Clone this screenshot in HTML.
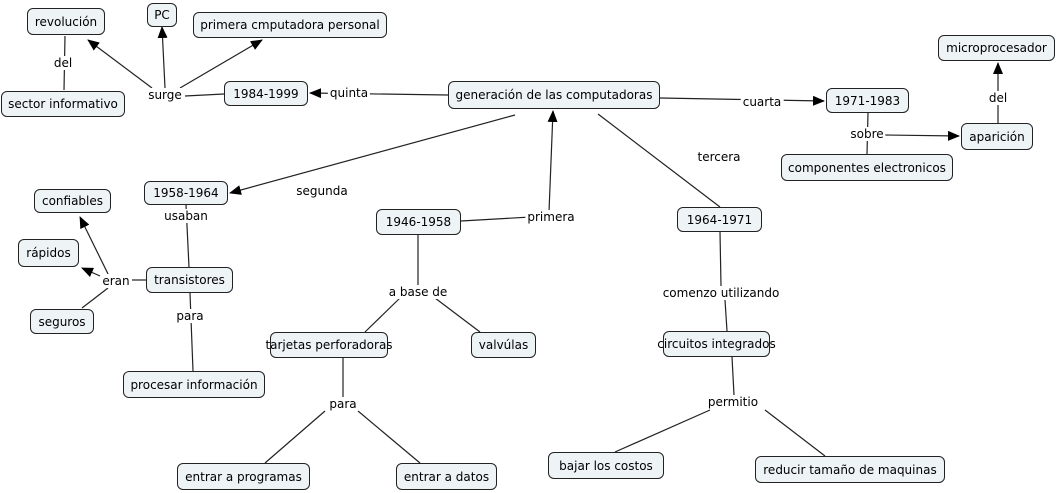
<!DOCTYPE html>
<html><head><meta charset="utf-8"><style>
body{margin:0;width:1059px;height:493px;background:#fff;position:relative;overflow:hidden;font-family:"DejaVu Sans","Liberation Sans",sans-serif;font-size:12px;color:#000}
.n{position:absolute;box-sizing:border-box;border:1px solid #222;border-radius:6px;background:#eef3f5;display:flex;align-items:center;justify-content:center;white-space:nowrap}
.l{position:absolute;background:#fff;white-space:nowrap;transform:translate(-50%,-50%);padding:0 2px;line-height:14px}
svg{position:absolute;left:0;top:0}
</style></head><body>
<svg width="1059" height="493">
<defs><marker id="a" markerWidth="12" markerHeight="10" refX="11" refY="5" orient="auto" markerUnits="userSpaceOnUse"><path d="M0,0L12,5L0,10z" fill="#000"/></marker></defs>
<g stroke="#222" stroke-width="1.2" fill="none">
<line x1="65" y1="36" x2="64" y2="90"/>
<line x1="152" y1="88" x2="88" y2="40" marker-end="url(#a)"/>
<line x1="165" y1="88" x2="162" y2="27" marker-end="url(#a)"/>
<line x1="180" y1="88" x2="262" y2="40" marker-end="url(#a)"/>
<line x1="185" y1="96" x2="224" y2="94"/>
<line x1="448" y1="95" x2="310" y2="93" marker-end="url(#a)"/>
<line x1="660" y1="98" x2="824" y2="101" marker-end="url(#a)"/>
<line x1="868" y1="113" x2="867" y2="154"/>
<line x1="885" y1="135" x2="959" y2="136" marker-end="url(#a)"/>
<line x1="998" y1="123" x2="998" y2="63" marker-end="url(#a)"/>
<line x1="515" y1="115" x2="230" y2="193" marker-end="url(#a)"/>
<line x1="598" y1="114" x2="720" y2="207"/>
<line x1="461" y1="221" x2="548" y2="216"/>
<line x1="549" y1="212" x2="553" y2="111" marker-end="url(#a)"/>
<line x1="186" y1="205" x2="189" y2="267"/>
<line x1="110" y1="278" x2="80" y2="217" marker-end="url(#a)"/>
<line x1="100" y1="276" x2="82" y2="268" marker-end="url(#a)"/>
<line x1="108" y1="288" x2="82" y2="308"/>
<line x1="132" y1="280" x2="146" y2="280"/>
<line x1="190" y1="293" x2="193" y2="371"/>
<line x1="418" y1="235" x2="418" y2="285"/>
<line x1="400" y1="298" x2="365" y2="332"/>
<line x1="435" y1="298" x2="480" y2="332"/>
<line x1="720" y1="232" x2="721" y2="286"/>
<line x1="725" y1="300" x2="727" y2="331"/>
<line x1="343" y1="358" x2="343" y2="397"/>
<line x1="325" y1="411" x2="265" y2="463"/>
<line x1="358" y1="411" x2="420" y2="463"/>
<line x1="732" y1="357" x2="734" y2="395"/>
<line x1="710" y1="410" x2="615" y2="452"/>
<line x1="765" y1="410" x2="825" y2="456"/>
</g></svg>
<div class="n" style="left:27px;top:8px;width:78px;height:27px">revolución</div>
<div class="n" style="left:147px;top:3px;width:30px;height:24px">PC</div>
<div class="n" style="left:193px;top:12px;width:194px;height:26px">primera cmputadora personal</div>
<div class="n" style="left:1px;top:91px;width:124px;height:26px">sector informativo</div>
<div class="n" style="left:224px;top:81px;width:84px;height:25px">1984-1999</div>
<div class="n" style="left:448px;top:81px;width:212px;height:28px">generación de las computadoras</div>
<div class="n" style="left:826px;top:88px;width:83px;height:25px">1971-1983</div>
<div class="n" style="left:938px;top:35px;width:117px;height:26px">microprocesador</div>
<div class="n" style="left:961px;top:123px;width:72px;height:27px">aparición</div>
<div class="n" style="left:781px;top:154px;width:172px;height:27px">componentes electronicos</div>
<div class="n" style="left:144px;top:181px;width:84px;height:24px">1958-1964</div>
<div class="n" style="left:34px;top:189px;width:77px;height:24px">confiables</div>
<div class="n" style="left:18px;top:239px;width:61px;height:28px">rápidos</div>
<div class="n" style="left:146px;top:267px;width:87px;height:26px">transistores</div>
<div class="n" style="left:30px;top:309px;width:64px;height:25px">seguros</div>
<div class="n" style="left:123px;top:371px;width:142px;height:27px">procesar información</div>
<div class="n" style="left:376px;top:209px;width:85px;height:26px">1946-1958</div>
<div class="n" style="left:677px;top:207px;width:85px;height:25px">1964-1971</div>
<div class="n" style="left:270px;top:332px;width:118px;height:26px">tarjetas perforadoras</div>
<div class="n" style="left:471px;top:332px;width:65px;height:26px">valvúlas</div>
<div class="n" style="left:663px;top:331px;width:107px;height:26px">circuitos integrados</div>
<div class="n" style="left:177px;top:463px;width:133px;height:27px">entrar a programas</div>
<div class="n" style="left:396px;top:463px;width:101px;height:27px">entrar a datos</div>
<div class="n" style="left:548px;top:452px;width:116px;height:27px">bajar los costos</div>
<div class="n" style="left:755px;top:456px;width:190px;height:27px">reducir tamaño de maquinas</div>
<div class="l" style="left:63px;top:63px">del</div>
<div class="l" style="left:165px;top:95px">surge</div>
<div class="l" style="left:349px;top:93px">quinta</div>
<div class="l" style="left:762px;top:102px">cuarta</div>
<div class="l" style="left:867px;top:134px">sobre</div>
<div class="l" style="left:998px;top:98px">del</div>
<div class="l" style="left:322px;top:191px">segunda</div>
<div class="l" style="left:186px;top:216px">usaban</div>
<div class="l" style="left:551px;top:217px">primera</div>
<div class="l" style="left:719px;top:157px">tercera</div>
<div class="l" style="left:116px;top:281px">eran</div>
<div class="l" style="left:190px;top:316px">para</div>
<div class="l" style="left:418px;top:292px">a base de</div>
<div class="l" style="left:721px;top:293px">comenzo utilizando</div>
<div class="l" style="left:343px;top:404px">para</div>
<div class="l" style="left:733px;top:402px">permitio</div>
</body></html>
